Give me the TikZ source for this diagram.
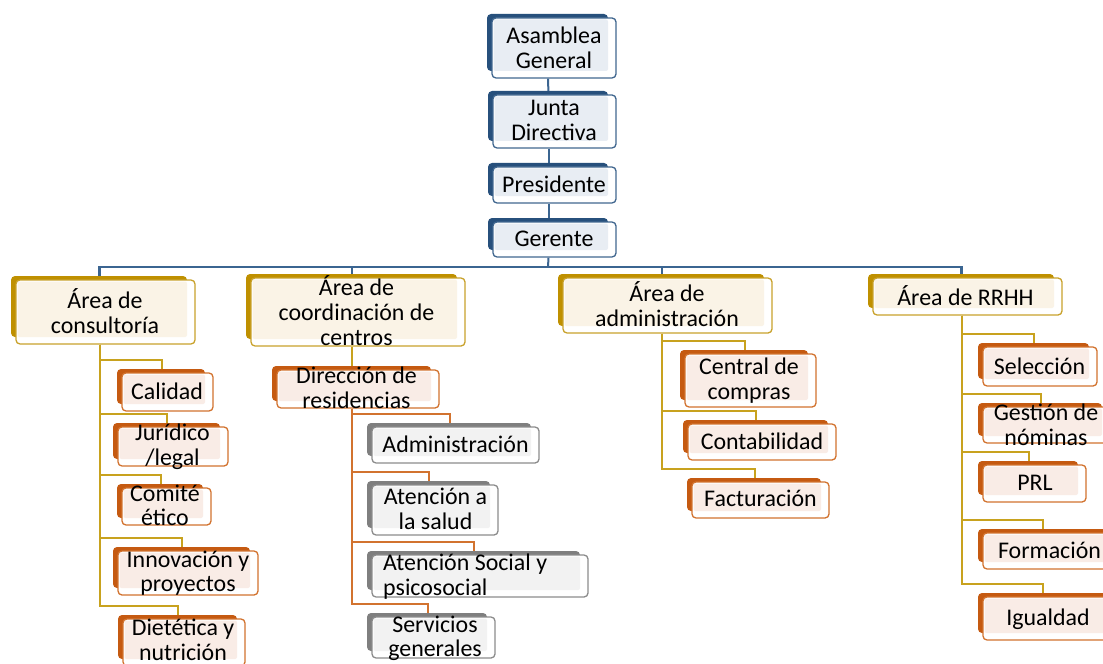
\documentclass[tikz,border=0pt]{standalone}
\usepackage{fontspec}
\setmainfont{Carlito}
\usetikzlibrary{fit,calc}
\definecolor{bluebk}{HTML}{27507C}
\definecolor{bluebr}{HTML}{41678F}
\definecolor{bluefl}{HTML}{E8EDF3}
\definecolor{goldbk}{HTML}{BF9000}
\definecolor{goldbr}{HTML}{C9A22C}
\definecolor{goldfl}{HTML}{FAF3E6}
\definecolor{goldln}{HTML}{C8A21E}
\definecolor{orgbk}{HTML}{C55A11}
\definecolor{orgbr}{HTML}{D2732F}
\definecolor{orgfl}{HTML}{F9ECE6}
\definecolor{graybk}{HTML}{7F7F7F}
\definecolor{graybr}{HTML}{8C8C8C}
\definecolor{grayfl}{HTML}{F2F2F2}
\definecolor{busblue}{HTML}{3B6591}
\pgfdeclarelayer{bg}
\pgfsetlayers{bg,main}
\newcommand\orgbox[6]{%
  \fill[#2bk, rounded corners=4bp] (#3-5,#4-4) rectangle (#5-8,#6-7);
  \node[fit={(#3,#4)(#5,#6)}, inner sep=0pt, fill=white, draw=#2br, line width=1.3bp, rounded corners=4bp] (#1) {};
  \fill[#2fl, rounded corners=2bp] (#3+1.5,#4+1.5) rectangle (#5-8,#6-7);
}
\tikzset{
  lbl/.style={font=\fontsize{24}{25}\selectfont, align=center, inner sep=0pt, yshift=-2.5bp,
    execute at begin node=\strut, execute at end node=\strut, text=black},
  bconn/.style={draw=busblue, line width=2bp},
  busline/.style={draw=busblue, line width=2.6bp},
  gconn/.style={draw=goldln, line width=2bp},
  oconn/.style={draw=orgbr, line width=2bp}
}
\begin{document}
\begin{tikzpicture}[x=1bp,y=-1bp]
\useasboundingbox (0,0) rectangle (1103,664);
% top chain
\orgbox{asm}{blue}{492}{18}{616}{78}
\orgbox{jun}{blue}{493}{95}{616}{148}
\orgbox{pre}{blue}{493}{167}{616}{203}
\orgbox{ger}{blue}{493}{222}{616}{257}
% areas
\orgbox{ac}{gold}{16}{280}{195}{344}
\orgbox{cc}{gold}{251}{278}{465}{346}
\orgbox{ad}{gold}{563}{278}{772}{333}
\orgbox{rh}{gold}{873}{278}{1062}{315}
% consultoria
\orgbox{cal}{org}{122}{373}{213}{411}
\orgbox{jur}{org}{118}{427}{228}{466}
\orgbox{com}{org}{122}{488}{211}{525}
\orgbox{inn}{org}{118}{551}{258}{595}
\orgbox{die}{org}{123}{619}{245}{666}
% coordinacion
\orgbox{dr}{org}{277}{370}{439}{408}
\orgbox{adm}{gray}{372}{427}{539}{463}
\orgbox{ats}{gray}{372}{485}{498}{535}
\orgbox{aso}{gray}{372}{555}{588}{597}
\orgbox{ser}{gray}{372}{617}{495}{658}
% administracion
\orgbox{cen}{org}{685}{354}{816}{407}
\orgbox{con}{org}{688}{424}{836}{460}
\orgbox{fac}{org}{692}{482}{829}{518}
% RRHH
\orgbox{sel}{org}{983}{347}{1097}{386}
\orgbox{ges}{org}{983}{407}{1110}{443}
\orgbox{prl}{org}{983}{465}{1086}{502}
\orgbox{for}{org}{983}{533}{1115}{569}
\orgbox{igu}{org}{983}{597}{1115}{640}
% texts
\node[lbl] (asm-t) at (554,48.5) {Asamblea\\General};
\node[lbl] (jun-t) at (554,122) {Junta\\Directiva};
\node[lbl] (pre-t) at (554,185) {Presidente};
\node[lbl] (ger-t) at (554,239.5) {Gerente};
\node[lbl] (ac-t) at (105,312.5) {Área de\\consultoría};
\node[lbl] (cc-t) at (356.5,312) {Área de\\coordinación de\\centros};
\node[lbl] (ad-t) at (667,305.5) {Área de\\administración};
\node[lbl] (rh-t) at (965.5,297) {Área de RRHH};
\node[lbl] (cal-t) at (167,392) {Calidad};
\node[lbl] (jur-t) at (172.5,445.5) {Jurídico\\/legal};
\node[lbl] (com-t) at (165,506.5) {Comité\\ético};
\node[lbl] (inn-t) at (188,572.5) {Innovación y\\proyectos};
\node[lbl] (die-t) at (183,641) {Dietética y\\nutrición};
\node[lbl] (dr-t) at (356.5,389) {Dirección de\\residencias};
\node[lbl] (adm-t) at (455.5,445) {Administración};
\node[lbl] (ats-t) at (435.5,510) {Atención a\\la salud};
\node[lbl, align=left, anchor=west] (aso-t) at (383,575.5) {Atención Social y\\psicosocial};
\node[lbl] (ser-t) at (435,637.5) {Servicios\\generales};
\node[lbl] (cen-t) at (749,379.5) {Central de\\compras};
\node[lbl] (con-t) at (762,442) {Contabilidad};
\node[lbl] (fac-t) at (760.5,499) {Facturación};
\node[lbl] (sel-t) at (1039.5,367) {Selección};
\node[lbl] (ges-t) at (1046,425.5) {Gestión de\\nóminas};
\node[lbl] (prl-t) at (1035,483) {PRL};
\node[lbl] (for-t) at (1049.5,551) {Formación};
\node[lbl] (igu-t) at (1048,618) {Igualdad};
\coordinate (bus) at (548,267);
\begin{pgfonlayer}{bg}
\fill[white] (0,0) rectangle (1103,664);
\draw[bconn] ([xshift=-6bp]asm.south) -- ([xshift=-6bp]jun.north);
\draw[bconn] ([xshift=-6bp]jun.south) -- ([xshift=-6bp]pre.north);
\draw[bconn] ([xshift=-6bp]pre.south) -- ([xshift=-6bp]ger.north);
\draw[bconn] ([xshift=-6bp]ger.south) -- (bus);
\draw[busline] ([xshift=-6bp]ac.north) |- (bus) -| ([xshift=-6bp]rh.north);
\draw[bconn] ([xshift=-6bp]cc.north) |- (bus);
\draw[bconn] ([xshift=-6bp]ad.north) |- (bus);
% consultoria
\foreach \c in {cal,jur,com,inn,die}
  \draw[gconn] ([xshift=-6bp]ac.south) |- ([xshift=-6bp,yshift=12bp]\c.north) -- ([xshift=-6bp]\c.north);
% coordinacion
\draw[gconn] ([xshift=-6bp]cc.south) -- ([xshift=-6bp]dr.north);
\foreach \c in {adm,ats,aso,ser}
  \draw[oconn] ([xshift=-6bp]dr.south) |- ([xshift=-6bp,yshift=12bp]\c.north) -- ([xshift=-6bp]\c.north);
% administracion
\foreach \c in {cen,con,fac}
  \draw[gconn] ([xshift=-6bp]ad.south) |- ([xshift=-6bp,yshift=12bp]\c.north) -- ([xshift=-6bp]\c.north);
% RRHH
\foreach \c in {sel,ges,prl,for,igu}
  \draw[gconn] ([xshift=-6bp]rh.south) |- ([xshift=-6bp,yshift=12bp]\c.north) -- ([xshift=-6bp]\c.north);
\end{pgfonlayer}
\end{tikzpicture}
\end{document}
